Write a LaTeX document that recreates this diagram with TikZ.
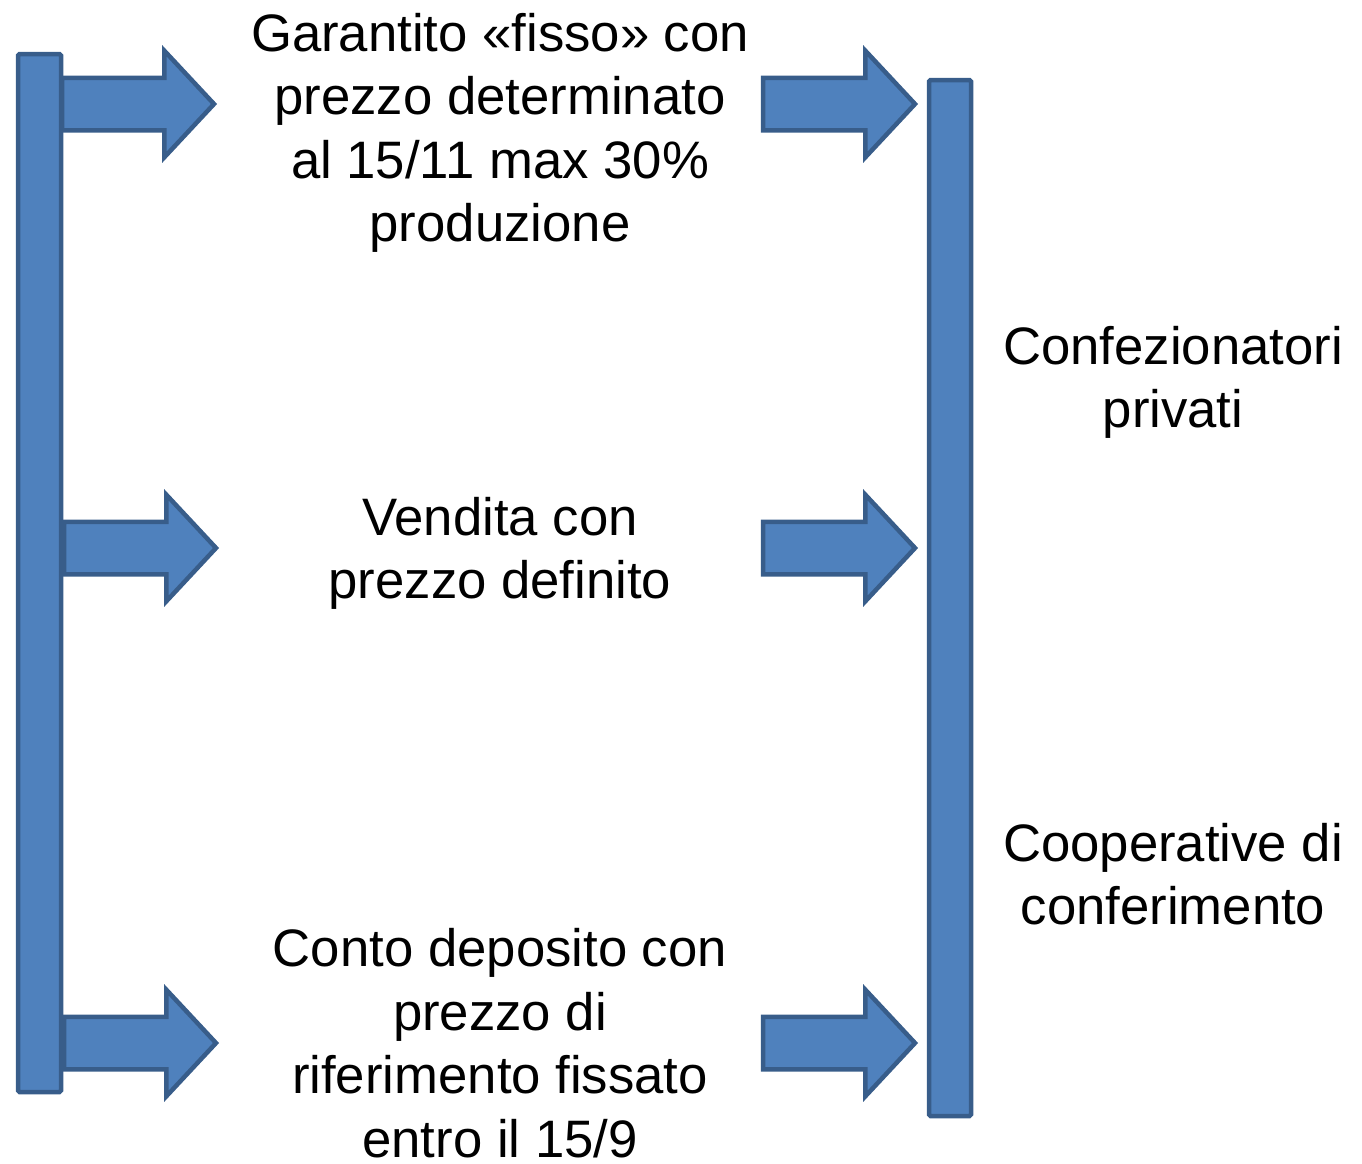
\documentclass[tikz,border=0pt]{standalone}
\usepackage{fontspec}
\setmainfont{Liberation Sans}
\usepackage{xcolor}
\usetikzlibrary{shapes.arrows, positioning}
\definecolor{barfill}{HTML}{4F81BD}
\definecolor{barline}{HTML}{385D8A}

\begin{document}
\begin{tikzpicture}[x=1pt, y=1pt, font=\fontsize{52.7}{63.5}\selectfont]
    % Define styles locally
    \tikzstyle{bar} = [rectangle, draw=barline, fill=barfill, line width=4.5pt, inner sep=0pt, outer sep=0pt, rounded corners=1.5pt, minimum width=43pt]
    \tikzstyle{flow} = [single arrow, draw=barline, fill=barfill, line width=4.5pt, inner xsep=0pt, inner ysep=24pt, outer sep=0pt, minimum height=152pt, single arrow head extend=27pt, single arrow tip angle=94]
    \tikzstyle{txt} = [align=center, inner sep=0pt]

    \useasboundingbox (0,0) rectangle (1362,-1163);

    % Arrows from the left bar
    \node[flow, anchor=west] (inA) at (62,-104) {};
    \node[flow, anchor=west] (inB) at (64,-548) {};
    \node[flow, anchor=west] (inC) at (64,-1043) {};

    % Arrows to the right bar
    \node[flow, anchor=west] (outA) at (763,-104) {};
    \node[flow, anchor=west] (outB) at (763,-548) {};
    \node[flow, anchor=west] (outC) at (763,-1043) {};

    % Bars
    \node[bar, anchor=north west, minimum height=1038pt] (barL) at (18,-54) {};
    \node[bar, anchor=north west, minimum height=1036pt, minimum width=42pt] (barR) at (929,-80) {};

    % Sale contracts
    \node[txt] (fisso) at (500,-133) {Garantito «fisso» con\\prezzo determinato\\al 15/11 max 30\%\\produzione};
    \node[txt] (vendita) at (500,-553.5) {Vendita con\\prezzo definito};
    \node[txt] (deposito) at (500,-1043) {Conto deposito con\\prezzo di\\riferimento fissato\\entro il 15/9};

    % Buyers
    \node[txt] (privati) at (1173,-382.5) {Confezionatori\\privati};
    \node[txt] (coop) at (1173,-874) {Cooperative di\\conferimento};

\end{tikzpicture}
\end{document}
